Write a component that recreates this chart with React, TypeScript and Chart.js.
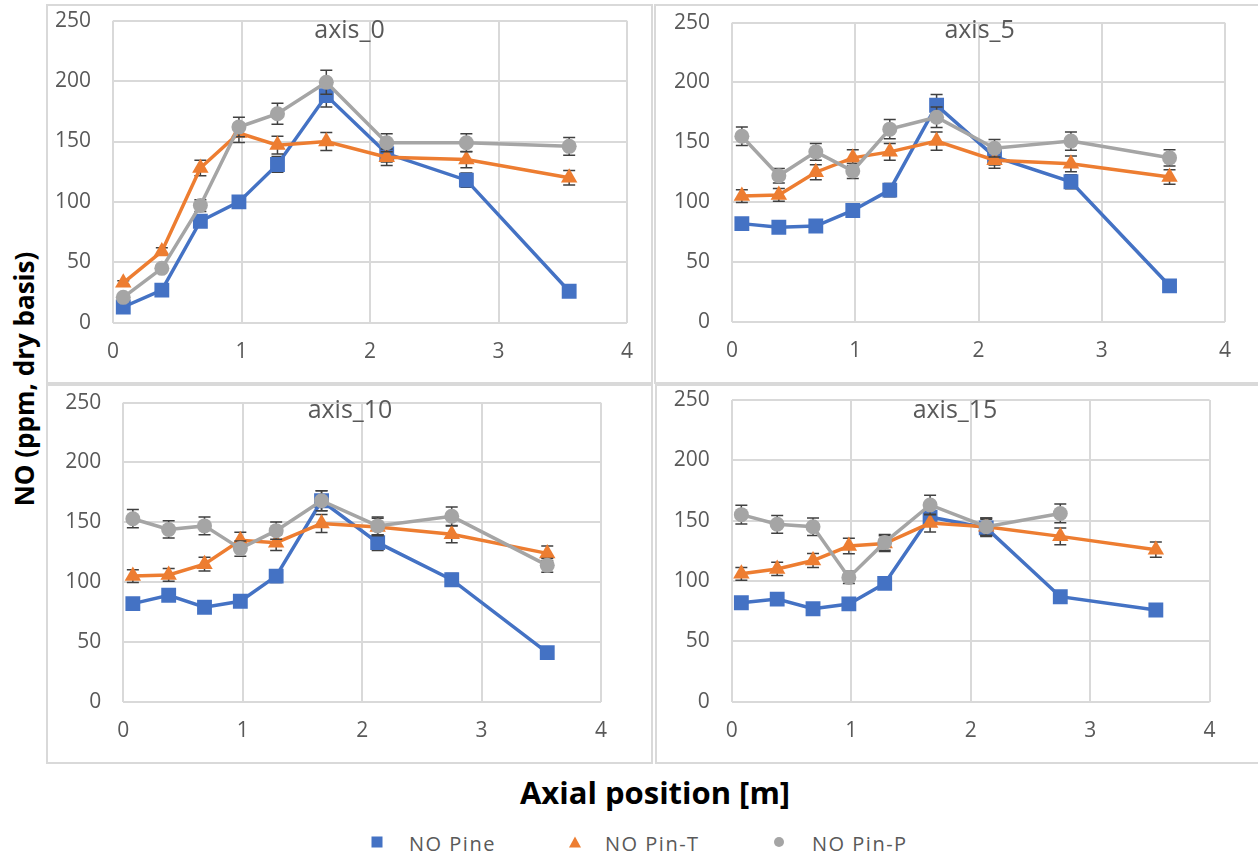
import React, { useEffect, useRef } from "react";
import { Chart, registerables } from "chart.js";

Chart.register(...registerables);

// ---------- data ----------
const xPositions = [0.08, 0.38, 0.68, 0.98, 1.28, 1.66, 2.13, 2.75, 3.55];
const seriesNames = ["NO Pine", "NO Pin-T", "NO Pin-P"];
const panelTitles = ["axis_0", "axis_5", "axis_10", "axis_15"];
const xTickValues = [0, 1, 2, 3, 4];
const yTickValues = [0, 50, 100, 150, 200, 250];
const errorPercent = 5; // percentage error bars

const axis0Pine = [13, 27, 84, 100, 131, 188, 140, 118, 26];
const axis0PinT = [33, 59, 128, 157, 147, 150, 137, 135, 120];
const axis0PinP = [21, 45, 97, 162, 173, 199, 149, 149, 146];

const axis5Pine = [82, 79, 80, 93, 110, 181, 138, 117, 30];
const axis5PinT = [105, 106, 125, 137, 142, 151, 135, 132, 121];
const axis5PinP = [155, 122, 142, 126, 161, 171, 145, 151, 137];

const axis10Pine = [82, 89, 79, 84, 105, 168, 133, 102, 41];
const axis10PinT = [105, 106, 115, 135, 133, 149, 146, 140, 124];
const axis10PinP = [153, 144, 147, 128, 143, 168, 147, 155, 114];

const axis15Pine = [82, 85, 77, 81, 98, 153, 144, 87, 76];
const axis15PinT = [106, 110, 117, 129, 131, 148, 145, 137, 126];
const axis15PinP = [155, 147, 145, 103, 132, 163, 145, 156, null];

// ---------- styles ----------
const COLORS = ["#4472C4", "#ED7D31", "#A5A5A5"];
const POINT_STYLES = ["rect", "triangle", "circle"];
const POINT_RADII = [10.5, 9.5, 7.5];
const GRID = "#d9d9d9";
const TEXT = "#595959";
const FONT = "'Open Sans', 'DejaVu Sans', sans-serif";
const ERR_COLOR = "#404040";

const errorBarPlugin = {
  id: "errorBars",
  beforeDatasetDraw(chart: any, args: any) {
    const meta = args.meta;
    const ds = chart.data.datasets[args.index];
    const ctx = chart.ctx;
    const yScale = chart.scales.y;
    const cap = 6;
    ctx.save();
    ctx.strokeStyle = ERR_COLOR;
    ctx.lineWidth = 1.5;
    meta.data.forEach((pt: any, i: number) => {
      const d = ds.data[i];
      if (!d || d.y == null) return;
      const e = (d.y * errorPercent) / 100;
      const yt = yScale.getPixelForValue(d.y + e);
      const yb = yScale.getPixelForValue(d.y - e);
      const x = pt.x;
      ctx.beginPath();
      ctx.moveTo(x, yt);
      ctx.lineTo(x, yb);
      ctx.moveTo(x - cap, yt);
      ctx.lineTo(x + cap, yt);
      ctx.moveTo(x - cap, yb);
      ctx.lineTo(x + cap, yb);
      ctx.stroke();
    });
    ctx.restore();
  },
};

const panelTitlePlugin = {
  id: "panelTitle",
  afterDraw(chart: any, _args: any, opts: any) {
    const ctx = chart.ctx;
    ctx.save();
    ctx.font = `25px ${FONT}`;
    ctx.fillStyle = TEXT;
    ctx.textAlign = "center";
    ctx.textBaseline = "alphabetic";
    ctx.fillText(opts.text, opts.x, opts.y);
    ctx.restore();
  },
};

type Layout = {
  left: number;
  top: number;
  width: number;
  height: number;
  borderWidth: number;
  yAxisWidth: number;
  padRight: number;
  padTop: number;
  xAxisHeight: number;
  titleX: number;
  titleY: number;
};

const layouts: Layout[] = [
  { left: 46, top: 4, width: 607, height: 380, borderWidth: 607, yAxisWidth: 67, padRight: 26, padTop: 16.7, xAxisHeight: 61.3, titleX: 303.5, titleY: 33.7 },
  { left: 654, top: 4, width: 604, height: 380, borderWidth: 680, yAxisWidth: 78, padRight: 33, padTop: 18.7, xAxisHeight: 62.3, titleX: 325.6, titleY: 33.7 },
  { left: 46, top: 384, width: 607, height: 380, borderWidth: 607, yAxisWidth: 77.3, padRight: 52, padTop: 18.7, xAxisHeight: 62.3, titleX: 304, titleY: 34 },
  { left: 655, top: 384, width: 603, height: 380, borderWidth: 680, yAxisWidth: 76.8, padRight: 48.4, padTop: 16, xAxisHeight: 62.3, titleX: 300, titleY: 34 },
];

const panelSeries = [
  [axis0Pine, axis0PinT, axis0PinP],
  [axis5Pine, axis5PinT, axis5PinP],
  [axis10Pine, axis10PinT, axis10PinP],
  [axis15Pine, axis15PinT, axis15PinP],
];

function Panel({ idx }: { idx: number }) {
  const ref = useRef<HTMLCanvasElement | null>(null);
  const L = layouts[idx];
  useEffect(() => {
    if (!ref.current) return;
    const series = panelSeries[idx];
    const datasets = series.map((vals, s) => ({
      label: seriesNames[s],
      data: xPositions.map((x, i) => ({ x, y: vals[i] })),
      borderColor: COLORS[s],
      backgroundColor: COLORS[s],
      pointBackgroundColor: COLORS[s],
      pointBorderColor: COLORS[s],
      pointBorderWidth: 0,
      pointStyle: POINT_STYLES[s],
      pointRadius: POINT_RADII[s],
      borderWidth: 3.5,
      tension: 0,
      fill: false,
      order: 3 - s,
    }));
    const tickFont = { family: FONT, size: 21 };
    const chart = new Chart(ref.current, {
      type: "line",
      data: { datasets },
      plugins: [errorBarPlugin, panelTitlePlugin],
      options: {
        animation: false,
        responsive: false,
        maintainAspectRatio: false,
        events: [],
        layout: { padding: { top: L.padTop, right: L.padRight, left: 0, bottom: 0 } },
        plugins: {
          legend: { display: false },
          tooltip: { enabled: false },
          panelTitle: { text: panelTitles[idx], x: L.titleX, y: L.titleY },
        } as any,
        scales: {
          x: {
            type: "linear",
            min: 0,
            max: 4,
            afterBuildTicks: (s: any) => {
              s.ticks = xTickValues.map((v) => ({ value: v }));
            },
            afterFit: (s: any) => {
              s.height = L.xAxisHeight;
              s.paddingLeft = 0;
              s.paddingRight = 0;
            },
            ticks: { color: TEXT, font: tickFont, padding: 17, maxRotation: 0 },
            grid: { color: GRID, lineWidth: 2, drawTicks: false },
            border: { display: false },
          },
          y: {
            type: "linear",
            min: 0,
            max: 250,
            afterBuildTicks: (s: any) => {
              s.ticks = yTickValues.map((v) => ({ value: v }));
            },
            afterFit: (s: any) => {
              s.width = L.yAxisWidth;
              s.paddingTop = 0;
              s.paddingBottom = 0;
            },
            ticks: { color: TEXT, font: tickFont, padding: 22 },
            grid: { color: GRID, lineWidth: 2, drawTicks: false },
            border: { display: false },
          },
        },
      } as any,
    });
    return () => chart.destroy();
  }, [idx]);
  return (
    <>
      <canvas
        ref={ref}
        width={L.width}
        height={L.height}
        style={{ position: "absolute", left: L.left, top: L.top, width: L.width, height: L.height }}
      />
      <div
        style={{
          position: "absolute",
          left: L.left,
          top: L.top,
          width: L.borderWidth,
          height: L.height,
          border: `2px solid ${GRID}`,
          boxSizing: "border-box",
          pointerEvents: "none",
        }}
      />
    </>
  );
}

function LegendMarker({ s }: { s: number }) {
  if (s === 0)
    return <div style={{ width: 11, height: 11, background: COLORS[0] }} />;
  if (s === 1)
    return (
      <div
        style={{
          width: 0,
          height: 0,
          borderLeft: "6.5px solid transparent",
          borderRight: "6.5px solid transparent",
          borderBottom: `11px solid ${COLORS[1]}`,
        }}
      />
    );
  return <div style={{ width: 10, height: 10, borderRadius: "50%", background: COLORS[2] }} />;
}

const legendMarkerX = [377, 575, 779];
const legendTextX = [409, 605, 812];

export default function App() {
  return (
    <div
      style={{
        position: "absolute",
        left: 0,
        top: 0,
        width: 1258,
        height: 854,
        background: "#fff",
        overflow: "hidden",
        fontFamily: FONT,
      }}
    >
      {[0, 1, 2, 3].map((i) => (
        <Panel key={i} idx={i} />
      ))}
      <div
        style={{
          position: "absolute",
          left: 24,
          top: 379,
          transform: "translate(-50%, -50%) rotate(-90deg)",
          whiteSpace: "nowrap",
          fontWeight: 700,
          fontSize: 26,
          lineHeight: 1,
          color: "#000",
        }}
      >
        NO (ppm, dry basis)
      </div>
      <div
        style={{
          position: "absolute",
          left: 655,
          top: 777,
          transform: "translateX(-50%)",
          whiteSpace: "nowrap",
          fontWeight: 700,
          fontSize: 31,
          lineHeight: 1,
          color: "#000",
        }}
      >
        Axial position [m]
      </div>
      {seriesNames.map((name, s) => (
        <React.Fragment key={name}>
          <div
            style={{
              position: "absolute",
              left: legendMarkerX[s],
              top: 842,
              transform: "translate(-50%, -50%)",
            }}
          >
            <LegendMarker s={s} />
          </div>
          <div
            style={{
              position: "absolute",
              left: legendTextX[s],
              top: 834,
              fontSize: 20,
              letterSpacing: 1.5,
              lineHeight: 1,
              color: TEXT,
              whiteSpace: "nowrap",
            }}
          >
            {name}
          </div>
        </React.Fragment>
      ))}
    </div>
  );
}
